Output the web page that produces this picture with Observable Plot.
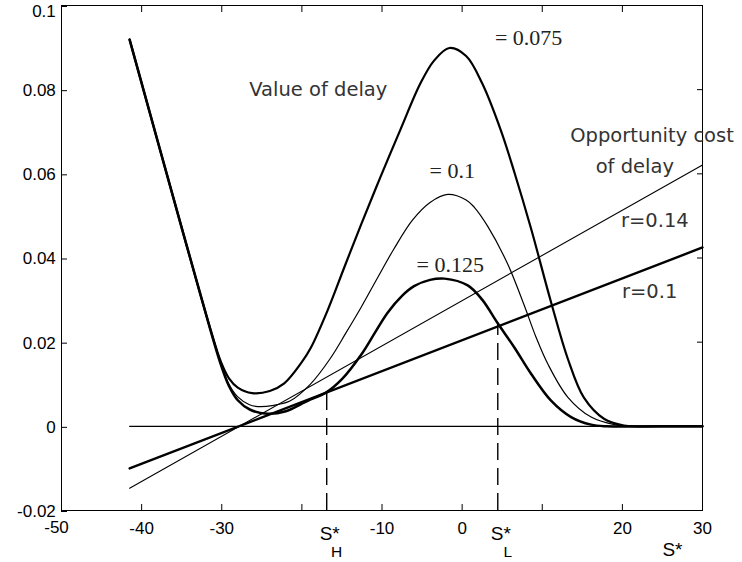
<!DOCTYPE html>
<html><head><meta charset="utf-8">
<script src="https://cdn.jsdelivr.net/npm/d3@7"></script>
<script src="https://cdn.jsdelivr.net/npm/@observablehq/plot@0.6"></script>
<style>body{margin:0;background:#fff} #chart svg{display:block}</style>
</head><body><div id="chart"></div>
<script>
// Value of delay, sigma = 0.075
const valueSigma075 = [
  [-41.5,0.0919],[-34.9,0.0465],[-31.4,0.0230],[-30.1,0.0153],[-29.1,0.0114],[-28.0,0.0092],
  [-26.2,0.0079],[-24.0,0.0084],[-22.2,0.0102],[-20.1,0.0150],[-18.9,0.0186],[-16.8,0.0275],
  [-14.7,0.0378],[-12.6,0.0480],[-10.2,0.0592],[-7.7,0.0705],[-5.2,0.0815],[-3.5,0.0869],
  [-1.6,0.0899],[0.5,0.0880],[2.5,0.0815],[4.8,0.0705],[6.5,0.0605],[8.6,0.0470],
  [11.1,0.0295],[13.2,0.0160],[15.2,0.0068],[17.7,0.0018],[20.2,0.0002],[22.0,0],[25,0],[30,0]
];
// Value of delay, sigma = 0.1
const valueSigma10 = [
  [-41.5,0.0919],[-34.9,0.0465],[-31.4,0.0229],[-30.1,0.0149],[-29.1,0.0100],[-28.0,0.0070],
  [-26.6,0.0052],[-25.5,0.0047],[-23.5,0.0050],[-21.5,0.0060],[-18.9,0.0101],[-16.5,0.0160],
  [-14.5,0.0222],[-12.6,0.0283],[-10.5,0.0355],[-8.5,0.0422],[-6.2,0.0490],[-4.0,0.0532],
  [-1.8,0.0551],[0.5,0.0538],[1.5,0.0521],[3.2,0.0475],[5.7,0.0385],[7.7,0.0290],
  [9.2,0.0213],[10.7,0.0148],[13.2,0.0069],[16.1,0.0022],[19.0,0.0004],[21.0,0],[25,0],[30,0]
];
// Value of delay, sigma = 0.125
const valueSigma125 = [
  [-41.5,0.0919],[-34.9,0.0465],[-31.4,0.0228],[-30.1,0.0146],[-29.1,0.0096],[-28.0,0.0062],
  [-26.5,0.0040],[-24.3,0.0030],[-22.0,0.0036],[-20.1,0.0053],[-18.9,0.0064],[-17.0,0.0080],
  [-15.0,0.0112],[-12.6,0.0170],[-10.8,0.0225],[-9.3,0.0270],[-7.5,0.0310],[-6.0,0.0333],
  [-4.0,0.0348],[-2.2,0.0351],[0.7,0.0335],[2.5,0.0301],[4.4,0.0246],[6.5,0.0188],
  [8.6,0.0125],[11.1,0.0061],[13.6,0.0022],[16.1,0.0004],[18.0,0],[25,0],[30,0]
];
// Opportunity cost of delay
const costR014 = [[-41.5,-0.0147],[30,0.0621]];
const costR010 = [[-41.5,-0.0100],[30,0.0425]];
const zeroLine = [[-41.5,0],[30,0]];

// Thresholds S*_H and S*_L
const thresholds = [{name:"H", x:-16.9, y:0.0082},{name:"L", x:4.45, y:0.0245}];

const xDomain = [-50, 30];
const yDomain = [-0.02, 0.1];
const xTicks = [-50,-40,-30,-20,-10,0,10,20,30];
const xTickLabels = ["","-40","-30","","-10","0","","20","30"];
const yTicks = [-0.02,0,0.02,0.04,0.06,0.08,0.1];
const yTickLabels = ["-0.02","0","0.02","0.04","0.06","0.08",""];

const sansLabels = [
  {text:"Value of delay", x:-17.95, y:0.0784},
  {text:"Opportunity cost", x:23.7, y:0.0675},
  {text:"of delay", x:21.55, y:0.0602},
  {text:"r=0.14", x:24.05, y:0.0473},
  {text:"r=0.1", x:23.4, y:0.0304}
];
const serifLabels = [
  {text:"= 0.075", x:8.3, y:0.0905},
  {text:"= 0.1", x:-1.23, y:0.0591},
  {text:"= 0.125", x:-1.48, y:0.0366}
];

const pts = a => a.map(([x, y]) => ({x, y}));

const chart = Plot.plot({
  width: 742,
  height: 562,
  marginLeft: 61,
  marginRight: 40,
  marginTop: 5,
  marginBottom: 52,
  style: {fontFamily: "Liberation Sans", fontSize: "17px", background: "white", color: "black"},
  x: {domain: xDomain, label: null},
  y: {domain: yDomain, label: null},
  marks: [
    Plot.frame({stroke: "black", strokeWidth: 1}),
    Plot.axisX({anchor: "bottom", ticks: xTicks, tickSize: -6, tickPadding: 17.5,
      tickFormat: d => xTickLabels[xTicks.indexOf(d)]}),
    Plot.axisX({anchor: "bottom", ticks: [xTicks[0]], tickSize: 0, tickPadding: 10.5, dx: -5,
      tickFormat: d => String(d)}),
    Plot.axisX({anchor: "top", ticks: xTicks, tickSize: -6, tickFormat: () => ""}),
    Plot.axisY({anchor: "left", ticks: yTicks, tickSize: -6, tickPadding: 11.7, dy: 1,
      tickFormat: d => yTickLabels[yTicks.indexOf(d)]}),
    Plot.axisY({anchor: "left", ticks: [yTicks[yTicks.length - 1]], tickSize: 0, tickPadding: 5.7, dy: 6,
      tickFormat: d => String(d)}),
    Plot.axisY({anchor: "right", ticks: yTicks, tickSize: -6, tickFormat: () => ""}),
    Plot.line(pts(zeroLine), {x: "x", y: "y", stroke: "black", strokeWidth: 1.1}),
    Plot.line(pts(costR014), {x: "x", y: "y", stroke: "black", strokeWidth: 1.1}),
    Plot.line(pts(costR010), {x: "x", y: "y", stroke: "black", strokeWidth: 2.4}),
    Plot.line(pts(valueSigma075), {x: "x", y: "y", stroke: "black", strokeWidth: 2.2, curve: "catmull-rom"}),
    Plot.line(pts(valueSigma10), {x: "x", y: "y", stroke: "black", strokeWidth: 1.2, curve: "catmull-rom"}),
    Plot.line(pts(valueSigma125), {x: "x", y: "y", stroke: "black", strokeWidth: 2.5, curve: "catmull-rom"}),
    Plot.ruleX(thresholds, {x: "x", y1: () => yDomain[0], y2: "y", stroke: "black", strokeWidth: 1.4, strokeDasharray: "17,8"}),
    Plot.text(sansLabels, {x: "x", y: "y", text: "text", textAnchor: "middle", lineAnchor: "bottom",
      fontFamily: "DejaVu Sans", fontSize: 19.5, fill: "#333"}),
    Plot.text(serifLabels, {x: "x", y: "y", text: "text", textAnchor: "middle", lineAnchor: "bottom",
      fontFamily: "Liberation Serif", fontSize: 22, fill: "#222"}),
    Plot.text(thresholds, {x: "x", frameAnchor: "bottom", text: () => "S*", textAnchor: "middle",
      lineAnchor: "bottom", dx: 3, dy: 29, fontFamily: "Liberation Sans", fontSize: 19, fill: "black"}),
    Plot.text(thresholds, {x: "x", frameAnchor: "bottom", text: "name", textAnchor: "middle",
      lineAnchor: "bottom", dx: 10, dy: 46, fontFamily: "Liberation Sans", fontSize: 15.5, fill: "black"}),
    Plot.text(["S*"], {frameAnchor: "bottom-right", text: d => d, textAnchor: "end", lineAnchor: "bottom",
      dx: -20, dy: 45, fontFamily: "Liberation Sans", fontSize: 19, fill: "black"})
  ]
});
document.getElementById("chart").appendChild(chart);
</script>
</body></html>
